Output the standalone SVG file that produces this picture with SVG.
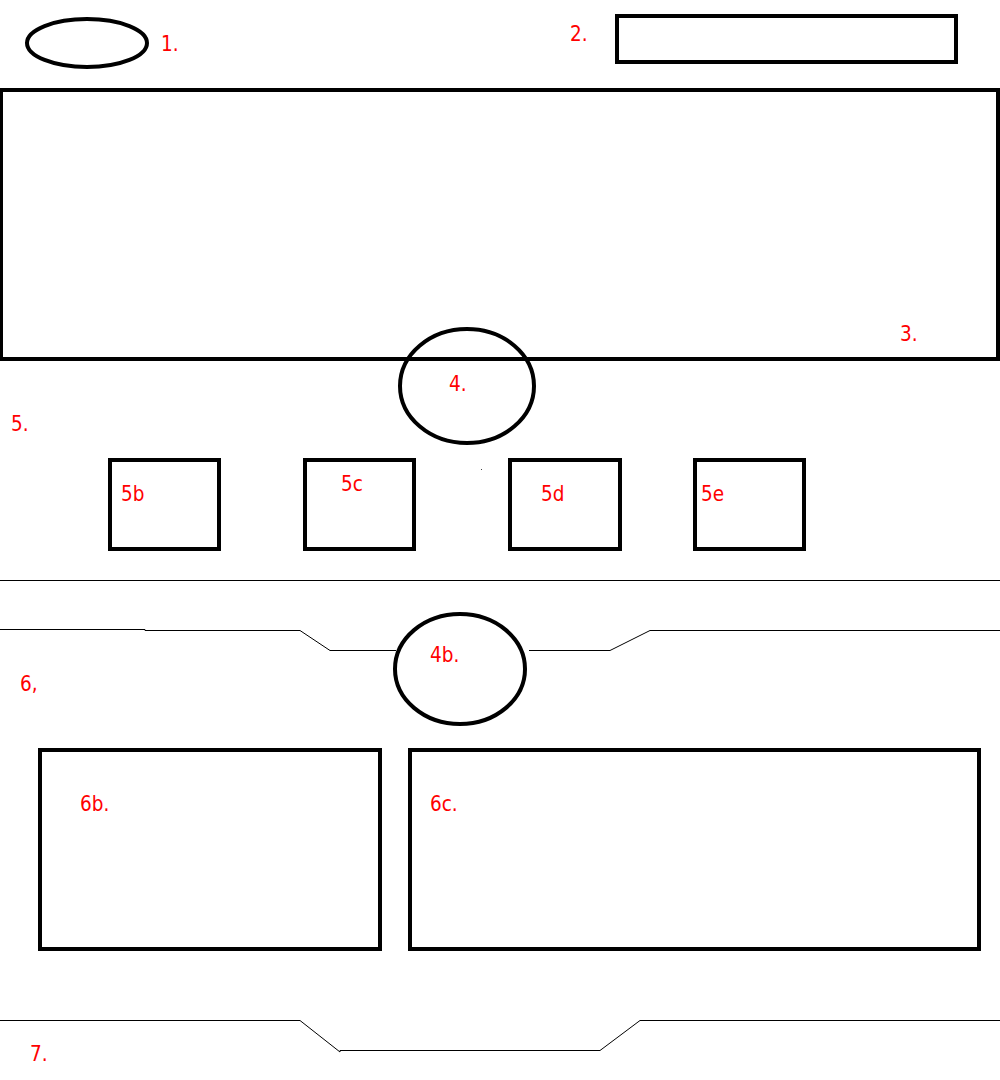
<svg xmlns="http://www.w3.org/2000/svg" width="1000" height="1080" viewBox="0 0 1000 1080">
<style>
.s{fill:none;stroke:#000;stroke-width:4}
.l{fill:none;stroke:#000;stroke-width:1}
text{font-family:"DejaVu Sans Condensed","DejaVu Sans",Verdana,sans-serif;font-size:20.5px;fill:#ff0000}
</style>
<rect width="1000" height="1080" fill="#fff"/>
<g id="connectors">
<line class="l" x1="0" y1="580.5" x2="1000" y2="580.5"/>
<polyline class="l" points="0,629.5 145,629.5 145,630.5 300,630.5 330,650.5 396,650.5"/>
<polyline class="l" points="529,650.5 610,650.5 650,630.5 1000,630.5"/>
<polyline class="l" points="0,1020.5 300,1020.5 340,1052 340,1050.5 600,1050.5 640,1020.5 1000,1020.5"/>
</g>
<g id="n1"><ellipse class="s" cx="87" cy="43" rx="60" ry="24"/><text x="161" y="51">1.</text></g>
<g id="n2"><rect class="s" x="617" y="16" width="339" height="46"/><text x="570" y="41">2.</text></g>
<g id="n3"><rect class="s" x="1" y="90" width="997" height="269"/><text x="900" y="341">3.</text></g>
<g id="n4"><ellipse class="s" cx="467" cy="386" rx="67" ry="57" fill="#fff"/><text x="449" y="391">4.</text></g>
<g id="n5"><text x="11" y="431">5.</text></g>
<g id="n5b"><rect class="s" x="110" y="460" width="109" height="89"/><text x="121" y="501">5b</text></g>
<g id="n5c"><rect class="s" x="305" y="460" width="109" height="89"/><text x="341" y="491">5c</text></g>
<g id="n5d"><rect class="s" x="510" y="460" width="110" height="89"/><text x="541" y="501">5d</text></g>
<g id="n5e"><rect class="s" x="695" y="460" width="109" height="89"/><text x="701" y="501">5e</text></g>
<rect x="481" y="469" width="1" height="1" fill="#444"/>
<g id="n4b"><ellipse class="s" cx="460" cy="669" rx="65" ry="55"/><text x="430" y="662">4b.</text></g>
<g id="n6"><text x="20" y="691">6,</text></g>
<g id="n6b"><rect class="s" x="40" y="750" width="340" height="199"/><text x="80" y="811">6b.</text></g>
<g id="n6c"><rect class="s" x="410" y="750" width="569" height="199"/><text x="430" y="811">6c.</text></g>
<g id="n7"><text x="30" y="1061">7.</text></g>
</svg>
